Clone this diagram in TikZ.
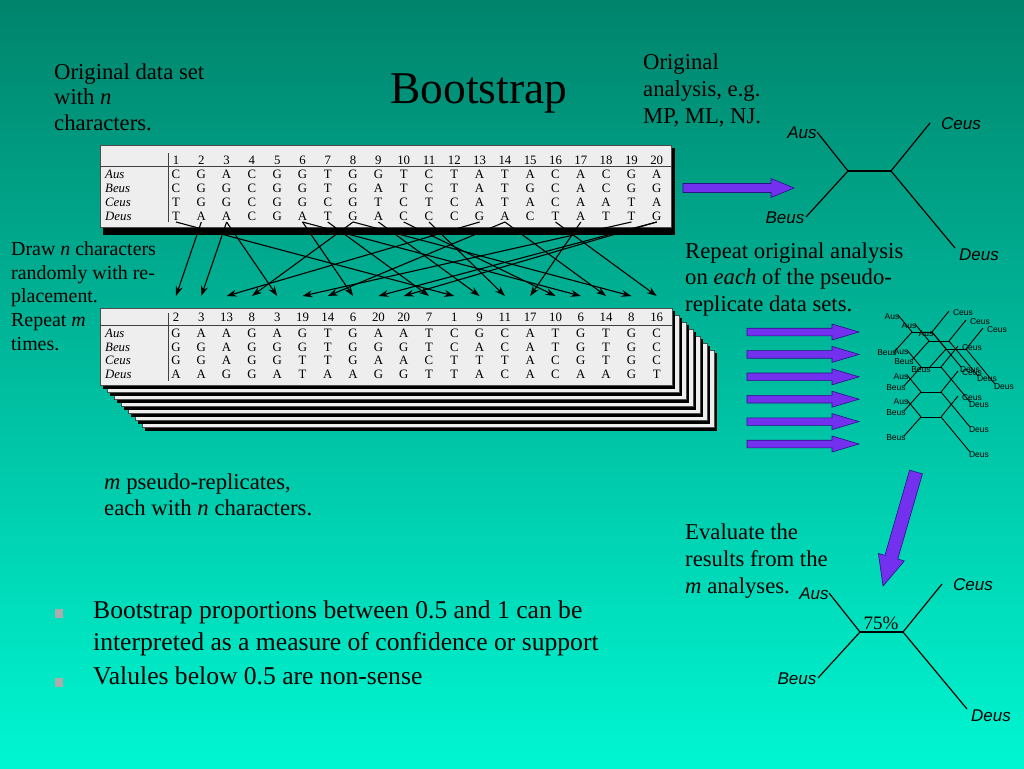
\documentclass[tikz,border=0pt]{standalone}
\usepackage{fontspec}
\setmainfont{Liberation Serif}
\newfontfamily\arialf{Liberation Sans}
\usetikzlibrary{arrows.meta,calc}
\definecolor{bgtop}{RGB}{0,132,108}
\definecolor{bgbot}{RGB}{0,246,210}
\definecolor{tabfill}{RGB}{238,238,238}
\definecolor{arrfill}{RGB}{115,48,238}
\definecolor{arrline}{RGB}{40,20,130}
\definecolor{bulletgray}{RGB}{172,172,172}
\tikzset{
  txt/.style={anchor=base west, inner sep=0pt, font=\fontsize{22.7}{26}\selectfont},
  smalltxt/.style={anchor=base west, inner sep=0pt, font=\fontsize{19.9}{23}\selectfont},
  bullettxt/.style={anchor=base west, inner sep=0pt, font=\fontsize{25.6}{30}\selectfont},
  cell/.style={anchor=base, inner sep=0pt, font=\fontsize{12.8}{14}\selectfont},
  rowlab/.style={anchor=base west, inner sep=0pt, font=\fontsize{12.8}{14}\selectfont\itshape},
  tabbox/.style={fill=tabfill, draw=black!70, line width=0.6pt},
  tabshadow/.style={fill=black},
  tabrule/.style={draw=black!75, line width=0.6pt},
  sel/.style={draw=black, line width=1.1pt, -{Stealth[length=10pt,width=7pt]}},
  branch/.style={draw=black, line width=1.2pt},
  sbranch/.style={draw=black, line width=0.9pt},
  taxon/.style={inner sep=0pt, font=\arialf\itshape\fontsize{17}{18}\selectfont},
  staxon/.style={inner sep=0pt, font=\arialf\fontsize{8.5}{9}\selectfont},
  fat/.style={fill=arrfill, draw=arrline, line width=0.6pt, line join=miter},
}
% fat arrow: start, end, shaft half width, head half width, head length
\newcommand\fatarrow[5]{%
  \coordinate (faH) at ($(#2)!#5!(#1)$);
  \draw[fat] ($(#1)!#3!90:(#2)$) -- ($(faH)!#3!90:(#2)$) -- ($(faH)!#4!90:(#2)$)
    -- (#2) -- ($(faH)!#4!-90:(#2)$) -- ($(faH)!#3!-90:(#2)$) -- ($(#1)!#3!-90:(#2)$) -- cycle;
}
% big tree: name, left internal node x, y
\newcommand\bigtree[3]{%
  \coordinate (#1L) at (#2,#3);
  \coordinate (#1R) at ($(#1L)+(43,0)$);
  \node[taxon] (#1a) at ($(#1L)+(-46,-38)$) {Aus};
  \node[taxon] (#1b) at ($(#1L)+(-63,47)$) {Beus};
  \node[taxon] (#1c) at ($(#1R)+(70,-47)$) {Ceus};
  \node[taxon] (#1d) at ($(#1R)+(88,84)$) {Deus};
  \draw[branch] ($(#1L)+(-31,-39)$) -- (#1L) -- ($(#1L)+(-42,46)$);
  \draw[branch] (#1L) -- (#1R);
  \draw[branch] ($(#1R)+(39,-48)$) -- (#1R) -- ($(#1R)+(64,77)$);
}
% small tree: name, left internal node x, y
\newcommand\smalltree[3]{%
  \coordinate (#1L) at (#2,#3);
  \coordinate (#1R) at ($(#1L)+(20,0)$);
  \node[staxon] (#1a) at ($(#1L)+(-20,-15)$) {Aus};
  \node[staxon] (#1b) at ($(#1L)+(-25,21)$) {Beus};
  \node[staxon] (#1c) at ($(#1R)+(31,-19)$) {Ceus};
  \node[staxon] (#1d) at ($(#1R)+(38,38)$) {Deus};
  \draw[sbranch] ($(#1L)+(-14,-17)$) -- (#1L) -- ($(#1L)+(-17,19)$);
  \draw[sbranch] (#1L) -- (#1R);
  \draw[sbranch] ($(#1R)+(17,-21)$) -- (#1R) -- ($(#1R)+(29,35)$);
}
\begin{document}
\begin{tikzpicture}[x=1pt,y=-1pt]
\useasboundingbox (0,0) rectangle (1024,768);
\shade[top color=bgtop,bottom color=bgbot] (0,0) rectangle (1024,768);

% title and texts
\node[anchor=base west, inner sep=0pt, font=\fontsize{45.5}{50}\selectfont] (title) at (390,103) {Bootstrap};

\node[txt] (od1) at (54,79) {Original data set};
\node[txt] (od2) at (54,104.5) {with \textit{n}};
\node[txt] (od3) at (54,130) {characters.};

\node[txt] (oa1) at (643,70) {Original};
\node[txt] (oa2) at (643,96.5) {analysis, e.g.};
\node[txt] (oa3) at (643,123) {MP, ML, NJ.};

\node[smalltxt] (dr1) at (11,255) {Draw \textit{n} characters};
\node[smalltxt] (dr2) at (11,279) {randomly with re-};
\node[smalltxt] (dr3) at (11,302.7) {placement.};
\node[smalltxt] (dr4) at (11,326.5) {Repeat \textit{m}};
\node[smalltxt] (dr5) at (11,350) {times.};

\node[txt] (rp1) at (685,258) {Repeat original analysis};
\node[txt] (rp2) at (685,284.5) {on \textit{each} of the pseudo-};
\node[txt] (rp3) at (685,311) {replicate data sets.};

\node[txt] (ps1) at (104,489) {\textit{m} pseudo-replicates,};
\node[txt] (ps2) at (104,515) {each with \textit{n} characters.};

\node[txt] (ev1) at (685,539) {Evaluate the};
\node[txt] (ev2) at (685,566) {results from the};
\node[txt] (ev3) at (685,593) {\textit{m} analyses.};

\fill[bulletgray] (55,609) rectangle (63,618);
\node[bullettxt] (bl1) at (93,618) {Bootstrap proportions between 0.5 and 1 can be};
\node[bullettxt] (bl2) at (93,650) {interpreted as a measure of confidence or support};
\fill[bulletgray] (55,678) rectangle (63,687);
\node[bullettxt] (bl3) at (93,684) {Valules below 0.5 are non-sense};

% original data table
\fill[tabshadow] (103,148) rectangle (675,235);
\draw[tabbox] (100,145) rectangle (671,227);
\draw[tabrule] (100,166) -- (671,166);
\draw[tabrule] (168,153) -- (168,222);
\foreach \v [count=\i] in {1,...,20} {\node[cell] (th\i) at ({176+(\i-1)*25.3},164) {\v};}
\foreach \nm/\yy/\seq in {
  Aus/178/{C,G,A,C,G,G,T,G,G,T,C,T,A,T,A,C,A,C,G,A},
  Beus/192/{C,G,G,C,G,G,T,G,A,T,C,T,A,T,G,C,A,C,G,G},
  Ceus/206/{T,G,G,C,G,G,C,G,T,C,T,C,A,T,A,C,A,A,T,A},
  Deus/220/{T,A,A,C,G,A,T,G,A,C,C,C,G,A,C,T,A,T,T,G}} {
  \node[rowlab] (t\nm) at (105,\yy) {\nm};
  \foreach \v [count=\i] in \seq {\node[cell] (t\nm\i) at ({176+(\i-1)*25.3},\yy) {\v};}
}

% pseudo-replicate stack
\foreach \k in {6,5,...,0} {
  \fill[tabshadow] ({103+7*\k},{311+7*\k}) rectangle ({675+7*\k},{389+7*\k});
  \draw[tabbox] ({100+7*\k},{308+7*\k}) rectangle ({672+7*\k},{385+7*\k});
}
\draw[tabrule] (100,325) -- (672,325);
\draw[tabrule] (168,313) -- (168,381);
\foreach \v [count=\i] in {2,3,13,8,3,19,14,6,20,20,7,1,9,11,17,10,6,14,8,16}
  {\node[cell] (bh\i) at ({176+(\i-1)*25.3},321.5) {\v};}
\foreach \nm/\yy/\seq in {
  Aus/337/{G,A,A,G,A,G,T,G,A,A,T,C,G,C,A,T,G,T,G,C},
  Beus/351/{G,G,A,G,G,G,T,G,G,G,T,C,A,C,A,T,G,T,G,C},
  Ceus/364.5/{G,G,A,G,G,T,T,G,A,A,C,T,T,T,A,C,G,T,G,C},
  Deus/378/{A,A,G,G,A,T,A,A,G,G,T,T,A,C,A,C,A,A,G,T}} {
  \node[rowlab] (b\nm) at (105,\yy) {\nm};
  \foreach \v [count=\i] in \seq {\node[cell] (b\nm\i) at ({176+(\i-1)*25.3},\yy) {\v};}
}

% resampling arrows
\foreach \i in {1,...,20} {
  \coordinate (s\i) at ({176+(\i-1)*25.3},222);
  \coordinate (e\i) at ({176+(\i-1)*25.3},296);
}
\foreach \h [count=\j] in {2,3,13,8,3,19,14,6,20,20,7,1,9,11,17,10,6,14,8,16}
  {\draw[sel] (s\h) -- (e\j);}

% fat arrows
\fatarrow{683,188}{794,188}{4.5pt}{9.5pt}{23pt}
\foreach \yy in {332,354.4,376.8,399.2,421.6,444}
  {\fatarrow{747,\yy}{859,\yy}{3.8pt}{8pt}{27pt}}
\fatarrow{916,472}{883,586}{6.7pt}{13.5pt}{30pt}

% trees
\bigtree{ot}{848}{171}
\smalltree{p1}{912}{332}
\smalltree{p2}{929}{341}
\smalltree{p3}{946}{349}
\smalltree{p4}{921}{367}
\smalltree{p5}{921}{392}
\smalltree{p6}{921}{417}
\bigtree{ct}{860}{632}
\node[inner sep=0pt, font=\fontsize{19}{20}\selectfont] (pct) at (881,623) {75\%};
\end{tikzpicture}
\end{document}
